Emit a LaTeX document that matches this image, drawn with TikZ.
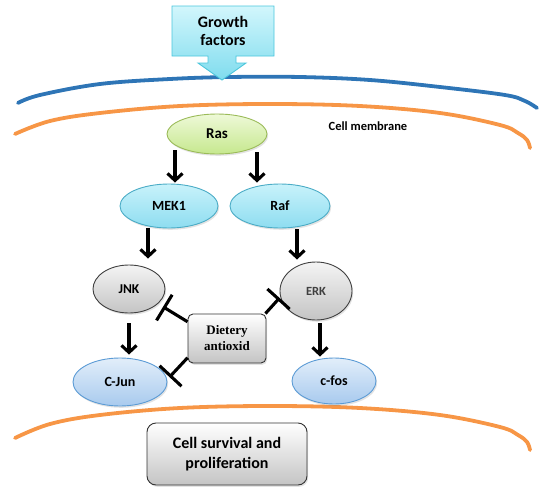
\documentclass[tikz,border=0pt]{standalone}
\usepackage{fontspec}
\setmainfont{Carlito}
\newfontfamily\serifbold{Liberation Serif}
\usetikzlibrary{arrows.meta,shapes.geometric,calc,shadows}
\definecolor{gfline}{HTML}{4BC6DC}
\definecolor{gftop}{HTML}{D2F6FC}
\definecolor{gfbot}{HTML}{7FDCEE}
\definecolor{memblue}{HTML}{2E75B6}
\definecolor{memorange}{HTML}{F79646}
\definecolor{rasline}{HTML}{9BBB59}
\definecolor{rastop}{HTML}{EEF9D8}
\definecolor{rasbot}{HTML}{C6E88E}
\definecolor{cyanline}{HTML}{4BACC6}
\definecolor{cyantop}{HTML}{C8F2FB}
\definecolor{cyanbot}{HTML}{8EDDF0}
\definecolor{blueline}{HTML}{5B9BD5}
\definecolor{bluetop}{HTML}{E2EEFA}
\definecolor{bluebot}{HTML}{A8CAEE}
\definecolor{graytop}{HTML}{F4F4F4}
\definecolor{graybot}{HTML}{C4C4C4}
\begin{document}
\begin{tikzpicture}[x=1pt,y=-1pt,
  shad/.style={drop shadow={opacity=0.22,shadow xshift=1.2pt,shadow yshift=-1.8pt}},
  ell/.style={ellipse,inner sep=0pt,line width=0.9pt,font=\bfseries,shad},
  rasnode/.style={ell,draw=rasline,top color=rastop,bottom color=rasbot},
  cyannode/.style={ell,draw=cyanline,top color=cyantop,bottom color=cyanbot},
  graynode/.style={ell,draw=black!75,top color=graytop,bottom color=graybot},
  bluenode/.style={ell,draw=blueline,top color=bluetop,bottom color=bluebot},
  boxnode/.style={rectangle,draw=black!80,line width=0.9pt,top color=white,bottom color=graybot,inner sep=0pt,align=center,shad},
  membrane/.style={line width=3.8pt,line cap=round},
  act/.style={line width=3.1pt,-{Straight Barb[length=7pt,width=15pt]}},
  inh/.style={line width=3.1pt,-{Bar[width=30pt]}}]
\useasboundingbox (0,0) rectangle (550,493);

% membranes
\draw[membrane,memblue] plot[smooth,tension=0.6] coordinates {(18,103) (40,95) (100,84) (170,79) (230,77) (300,77) (370,80) (440,87) (505,95) (525,101) (537,108)};
\draw[membrane,memorange] plot[smooth,tension=0.6] coordinates {(15,134) (50,121) (100,113) (180,106) (270,104) (360,106) (440,113) (500,125) (518,133) (527,140) (530,148)};
\draw[membrane,memorange] plot[smooth,tension=0.6] coordinates {(15,438) (50,424) (100,415) (180,408) (270,406) (360,408) (440,415) (500,427) (518,435) (527,442) (530,450)};

% growth factors callout
\draw[gfline,line width=0.9pt,top color=gftop,bottom color=gfbot]
  (172,6) -- (274,6) -- (274,56) -- (236,56) -- (236,63) -- (246,63) -- (222,80)
  -- (198,63) -- (208,63) -- (208,56) -- (172,56) -- cycle;
\node[font=\bfseries\fontsize{16}{18}\selectfont,align=center] (gf) at (223,31) {Growth\\factors};

\node[font=\bfseries\fontsize{12.5}{14}\selectfont] (cm) at (368,126) {Cell membrane};

% nodes
\node[rasnode,minimum width=100pt,minimum height=40pt,font=\bfseries\fontsize{15}{17}\selectfont] (ras) at (217,134) {Ras};
\node[cyannode,minimum width=98pt,minimum height=44pt,font=\bfseries\fontsize{14}{16}\selectfont] (mek1) at (169,206) {MEK1};
\node[cyannode,minimum width=100pt,minimum height=44pt,font=\bfseries\fontsize{14}{16}\selectfont] (raf) at (280,206) {Raf};
\node[graynode,minimum width=72pt,minimum height=48pt,font=\bfseries\fontsize{13.5}{15}\selectfont] (jnk) at (129,289) {JNK};
\node[graynode,minimum width=72pt,minimum height=58pt,font=\bfseries\fontsize{12.5}{14}\selectfont,text=black!75] (erk) at (316,291) {ERK};
\node[bluenode,minimum width=94pt,minimum height=48pt,font=\bfseries\fontsize{14}{16}\selectfont] (cjun) at (120,382) {C-Jun};
\node[bluenode,minimum width=84pt,minimum height=46pt,font=\bfseries\fontsize{14}{16}\selectfont] (cfos) at (334,381) {c-fos};
\node[boxnode,rounded corners=5pt,minimum width=78pt,minimum height=49pt,font=\serifbold\bfseries\fontsize{13}{16}\selectfont] (diet) at (227,338.5) {Dietery\\antioxid};
\node[boxnode,rounded corners=9pt,minimum width=160pt,minimum height=62pt,font=\bfseries\fontsize{16}{20}\selectfont] (cell) at (227,454) {Cell survival and\\proliferation};

% activation arrows
\draw[act] ([xshift=-42pt,yshift=4pt]ras.south) -- ([xshift=6pt,yshift=1pt]mek1.north);
\draw[act] ([xshift=40pt,yshift=2pt]ras.south) -- ([xshift=-23pt,yshift=1pt]raf.north);
\draw[act] ([xshift=-21pt]mek1.south) -- ([xshift=19pt,yshift=6pt]jnk.north);
\draw[act] ([xshift=17pt,yshift=-1pt]raf.south) -- ([xshift=-19pt,yshift=2pt]erk.north);
\draw[act] ([yshift=-10pt]jnk.south) -- ([xshift=9pt,yshift=3pt]cjun.north);
\draw[act] ([xshift=4pt,yshift=-3pt]erk.south) -- ([xshift=-14pt,yshift=1pt]cfos.north);

% inhibition
\draw[inh] (diet.157) -- ($(jnk.333)+(5,3)$);
\draw[inh] (diet.206) -- ($(cjun.6)+(3,0)$);
\draw[inh] (diet.33) -- ($(erk.191)+(-1,0)$);
\end{tikzpicture}
\end{document}
